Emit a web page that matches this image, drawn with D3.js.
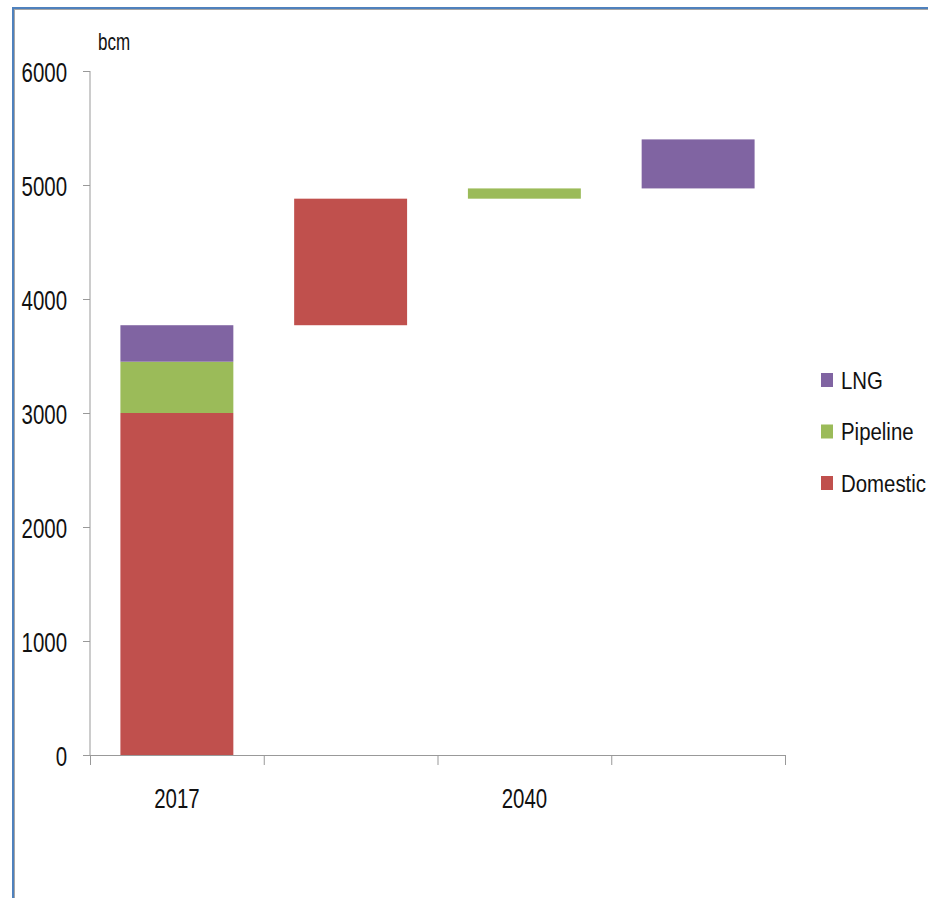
<!DOCTYPE html>
<html>
<head>
<meta charset="utf-8">
<script src="https://cdn.jsdelivr.net/npm/d3@7"></script>
<style>
  html, body { margin: 0; padding: 0; background: #fff; }
  svg { display: block; }
  text { font-family: "Liberation Sans", Arial, sans-serif; fill: #111; }
</style>
</head>
<body>
<svg id="chart" width="928" height="898"></svg>
<script>
// Gas supply by source, bcm: 2017 stack followed by increments to 2040
const categories = ["2017", "", "2040", ""];
const domestic = [3000, 1110, 0, 0];
const pipeline = [450, 0, 90, 0];
const lng = [320, 0, 0, 430];
const yTicks = [0, 1000, 2000, 3000, 4000, 5000, 6000];
const seriesNames = ["Domestic", "Pipeline", "LNG"];
const seriesColors = ["#C0504D", "#9BBB59", "#8064A2"];

const svg = d3.select("#chart");
const W = 928, H = 898;
const plotLeft = 90, plotRight = 785, plotTop = 71, plotBottom = 755;
const axisFont = 28, axisSqueeze = 0.73;

// frame lines along the top and left edges
svg.append("rect").attr("x", 12).attr("y", 7).attr("width", W - 12).attr("height", 2).attr("fill", "#4F81BD");
svg.append("rect").attr("x", 12).attr("y", 9).attr("width", W - 12).attr("height", 1).attr("fill", "#A6A6A6");
svg.append("rect").attr("x", 12).attr("y", 7).attr("width", 2).attr("height", H - 7).attr("fill", "#4F81BD");
svg.append("rect").attr("x", 14).attr("y", 9).attr("width", 1).attr("height", H - 9).attr("fill", "#A6A6A6");

const y = d3.scaleLinear().domain([0, 6000]).range([plotBottom, plotTop]);
const x = d3.scaleBand().domain(d3.range(categories.length))
  .range([plotLeft, plotRight]).paddingInner(0.35).paddingOuter(0.175);
const xEdges = d3.scaleLinear().domain([0, categories.length]).range([plotLeft, plotRight]);

// waterfall segments: first column stacks from zero, later ones float on the running total
const seriesValues = [domestic, pipeline, lng];
const segments = [];
let running = 0;
categories.forEach((c, i) => {
  let base = i === 0 ? 0 : running;
  seriesValues.forEach((vals, s) => {
    const v = vals[i];
    if (v > 0) {
      segments.push({ i, s, y0: base, y1: base + v });
      base += v;
    }
  });
  running = base;
});

svg.append("g").selectAll("rect").data(segments).join("rect")
  .attr("x", d => x(d.i))
  .attr("width", x.bandwidth())
  .attr("y", d => y(d.y1))
  .attr("height", d => y(d.y0) - y(d.y1))
  .attr("fill", d => seriesColors[d.s]);

// y axis
const yAxis = svg.append("g").attr("transform", `translate(${plotLeft},0)`)
  .call(d3.axisLeft(y).tickValues(yTicks).tickFormat(d3.format("d")).tickSize(7).tickPadding(16));
yAxis.selectAll("path, line").attr("stroke", "#999").attr("stroke-width", 1);
yAxis.select(".domain").attr("d", `M0,${plotTop}V${plotBottom}`);
yAxis.selectAll("text")
  .attr("x", 0).attr("dy", "0.36em")
  .attr("transform", `translate(-23,0) scale(${axisSqueeze},1)`)
  .attr("font-family", "Liberation Sans, Arial, sans-serif")
  .attr("font-size", axisFont).attr("fill", "#111");

// x axis with ticks on category boundaries
const xAxis = svg.append("g").attr("transform", `translate(0,${plotBottom})`)
  .call(d3.axisBottom(xEdges).tickValues(d3.range(categories.length + 1)).tickFormat("").tickSize(10).tickSizeOuter(0));
xAxis.selectAll("path, line").attr("stroke", "#999").attr("stroke-width", 1);

svg.append("g").selectAll("text").data(categories).join("text")
  .attr("transform", (d, i) => `translate(${x(i) + x.bandwidth() / 2},808) scale(${axisSqueeze},1)`)
  .attr("text-anchor", "middle")
  .attr("font-size", axisFont)
  .text(d => d);

// unit label
svg.append("text")
  .attr("transform", "translate(98,50) scale(0.74,1)")
  .attr("font-size", 23)
  .text("bcm");

// legend, top to bottom: LNG, Pipeline, Domestic
const legendOrder = [2, 1, 0];
const legend = svg.append("g").selectAll("g").data(legendOrder).join("g")
  .attr("transform", (d, k) => `translate(821,${380 + k * 51.5})`);
legend.append("rect").attr("x", 0).attr("y", -7).attr("width", 12).attr("height", 14)
  .attr("fill", d => seriesColors[d]);
legend.append("text")
  .attr("transform", "translate(20,0) scale(0.85,1)")
  .attr("dy", "0.36em")
  .attr("font-size", 24).text(d => seriesNames[d]);
</script>
</body>
</html>
